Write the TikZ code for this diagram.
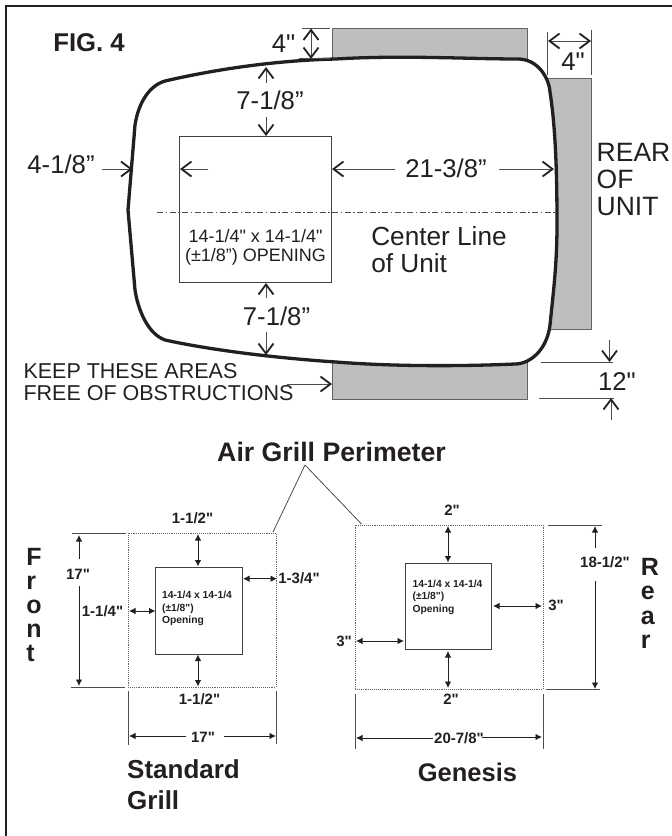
\documentclass[tikz,border=0pt]{standalone}
\usepackage{fontspec}
\setmainfont{Liberation Sans}[Ligatures=TeXOff]
\usetikzlibrary{arrows.meta}
\definecolor{inkdark}{HTML}{231F20}
\definecolor{areagray}{HTML}{BCBEC0}
\tikzset{
	bigtxt/.style={inner sep=0pt,text=inkdark,font=\fontsize{25.7}{27}\selectfont},
	midtxt/.style={inner sep=0pt,text=inkdark,align=left,font=\fontsize{21.5}{22}\selectfont},
	boldtxt/.style={inner sep=0pt,text=inkdark,align=left,font=\fontsize{26}{31}\selectfont\bfseries},
	dimtxt/.style={inner sep=0pt,text=inkdark,font=\fontsize{15}{15}\selectfont\bfseries},
	opentxt/.style={inner sep=0pt,text=inkdark,align=left,font=\fontsize{10.3}{12.5}\selectfont\bfseries},
	areabox/.style={fill=areagray,draw=inkdark!70,line width=0.8pt},
	openbox/.style={draw=inkdark!85,line width=0.9pt},
	thinline/.style={draw=inkdark!80,line width=0.8pt},
	bigdim/.style={draw=inkdark!80,line width=0.8pt,-{Straight Barb[length=10pt,width=15pt,line width=1.8pt,color=inkdark]}},
	bigboth/.style={draw=inkdark!80,line width=0.8pt,{Straight Barb[length=10pt,width=15pt,line width=1.8pt,color=inkdark]}-{Straight Barb[length=10pt,width=15pt,line width=1.8pt,color=inkdark]}},
	smalldim/.style={draw=inkdark,line width=0.9pt,-{Latex[length=6.5pt,width=6.5pt]}},
	smallboth/.style={draw=inkdark,line width=0.9pt,{Latex[length=6.5pt,width=6.5pt]}-{Latex[length=6.5pt,width=6.5pt]}},
	grillline/.style={draw=inkdark!70,line width=0.9pt,densely dotted},
}
\begin{document}
\begin{tikzpicture}[x=1pt,y=-1pt]
	\useasboundingbox (0,0) rectangle (672,836);

	\draw[inkdark,line width=2.2pt] (6,836) -- (6,6) -- (672,6);

	\node[areabox,minimum width=195pt,minimum height=60pt,inner sep=0pt] (topArea) at (429.5,58) {};
	\node[areabox,minimum width=195pt,minimum height=60pt,inner sep=0pt] (botArea) at (429.5,369) {};
	\node[areabox,minimum width=60pt,minimum height=251pt,inner sep=0pt] (rearArea) at (561,203.5) {};

	\draw[inkdark,fill=white,line width=3.3pt,line join=round]
		(165,81) .. controls (230,66) and (290,60) .. (336,59)
		.. controls (400,55) and (470,59) .. (518,59)
		.. controls (538,59) and (549,78) .. (550,92)
		.. controls (556,130) and (557,180) .. (557,225)
		.. controls (557,265) and (553,295) .. (550,325)
		.. controls (547,350) and (530,364) .. (515,364)
		.. controls (470,366) and (400,367) .. (336,362)
		.. controls (290,359) and (220,352) .. (165,340)
		.. controls (148,334) and (138,310) .. (135,290)
		-- (128,210) -- (135,125)
		.. controls (138,105) and (148,86) .. (165,81) -- cycle;

	\node[openbox,minimum width=152pt,minimum height=146pt,inner sep=0pt] (opening) at (255.5,209.5) {};
	\draw[inkdark!80,line width=0.8pt,dash pattern=on 6pt off 2.5pt on 1.5pt off 2.5pt] (157,212) -- (555,212);

	\node[boldtxt,font=\fontsize{25.7}{27}\selectfont\bfseries] (figTitle) at (89,43) {FIG. 4};
	\node[bigtxt] (topGap) at (283.5,44) {4"};
	\node[bigtxt] (rearGap) at (573,62) {4"};
	\node[bigtxt] (frontDim) at (61,164) {4-1/8”};
	\node[bigtxt] (rearDim) at (446,168) {21-3/8”};
	\node[bigtxt] (upperDim) at (270,100) {7-1/8”};
	\node[bigtxt] (lowerDim) at (276.5,316) {7-1/8”};
	\node[bigtxt] (sideDim) at (617,382) {12"};
	\node[bigtxt,align=left,font=\fontsize{26.5}{27}\selectfont] (rearLabel) at (633.5,179.5) {REAR\\OF\\UNIT};
	\node[bigtxt,align=left,font=\fontsize{26.2}{27.5}\selectfont] (centerLabel) at (439,249.5) {Center Line\\of Unit};
	\node[inner sep=0pt,text=inkdark,align=center,font=\fontsize{18}{19.5}\selectfont] (openingText) at (255.5,247.5) {14-1/4" x 14-1/4"\\(±1/8”) OPENING};
	\node[midtxt] (keepLabel) at (158.5,382) {KEEP THESE AREAS\\FREE OF OBSTRUCTIONS};

	\coordinate (topExtA1) at (302,28); \coordinate (topExtA2) at (330,28);
	\coordinate (topExtB1) at (299,58.5); \coordinate (topExtB2) at (330,58.5);
	\coordinate (topArrA) at (311,28.5); \coordinate (topArrB) at (311,59);
	\coordinate (rearExtA1) at (547.5,32); \coordinate (rearExtA2) at (547.5,75);
	\coordinate (rearExtB1) at (591,30); \coordinate (rearExtB2) at (591,75);
	\coordinate (rearArrA) at (548,41); \coordinate (rearArrB) at (591,41);
	\coordinate (frontArrA) at (102,169); \coordinate (frontArrB) at (132.5,169);
	\coordinate (frontArrC) at (208,169); \coordinate (frontArrD) at (180,169);
	\coordinate (rearArrC) at (395,169); \coordinate (rearArrD) at (332,169);
	\coordinate (rearArrE) at (499,169); \coordinate (rearArrF) at (554,169);
	\coordinate (upperArrA) at (266,83); \coordinate (upperArrB) at (266,67);
	\coordinate (upperArrC) at (266,117); \coordinate (upperArrD) at (266,136);
	\coordinate (lowerArrA) at (266,298); \coordinate (lowerArrB) at (266,283);
	\coordinate (lowerArrC) at (266,332); \coordinate (lowerArrD) at (266,355);
	\coordinate (keepArrA) at (287,384); \coordinate (keepArrB) at (332,384);
	\coordinate (sideExtA1) at (541,362.5); \coordinate (sideExtA2) at (613,362.5);
	\coordinate (sideExtB1) at (539,398); \coordinate (sideExtB2) at (614,398);
	\coordinate (sideArrA) at (609.5,340); \coordinate (sideArrB) at (609.5,362);
	\coordinate (sideArrC) at (611,420); \coordinate (sideArrD) at (611,398);

	\path (topExtA1) edge[thinline] (topExtA2);
	\path (topExtB1) edge[thinline] (topExtB2);
	\path (topArrA) edge[bigboth] (topArrB);
	\path (rearExtA1) edge[thinline] (rearExtA2);
	\path (rearExtB1) edge[thinline] (rearExtB2);
	\path (rearArrA) edge[bigboth] (rearArrB);
	\path (frontArrA) edge[bigdim] (frontArrB);
	\path (frontArrC) edge[bigdim] (frontArrD);
	\path (rearArrC) edge[bigdim] (rearArrD);
	\path (rearArrE) edge[bigdim] (rearArrF);
	\path (upperArrA) edge[bigdim] (upperArrB);
	\path (upperArrC) edge[bigdim] (upperArrD);
	\path (lowerArrA) edge[bigdim] (lowerArrB);
	\path (lowerArrC) edge[bigdim] (lowerArrD);
	\path (keepArrA) edge[bigdim] (keepArrB);
	\path (sideExtA1) edge[thinline] (sideExtA2);
	\path (sideExtB1) edge[thinline] (sideExtB2);
	\path (sideArrA) edge[bigdim] (sideArrB);
	\path (sideArrC) edge[bigdim] (sideArrD);

	\node[boldtxt,font=\fontsize{26.7}{27}\selectfont\bfseries] (perimLabel) at (331.5,452) {Air Grill Perimeter};
	\coordinate (perimApex) at (305,465);
	\coordinate (stdCorner) at (273,532);
	\coordinate (genCorner) at (361.5,524);
	\path (perimApex) edge[thinline] (stdCorner);
	\path (perimApex) edge[thinline] (genCorner);

	\node[grillline,minimum width=148pt,minimum height=154pt,inner sep=0pt] (stdGrill) at (202,610) {};
	\node[openbox,minimum width=86.5pt,minimum height=87pt,inner sep=0pt] (stdOpen) at (198.75,610.5) {};
	\node[opentxt] (stdText) at (197,608.5) {14-1/4 x 14-1/4\\(±1/8")\\Opening};
	\node[inner sep=0pt,text=inkdark,align=left,font=\fontsize{25}{24}\selectfont\bfseries] (frontText) at (34,605.5) {F\\r\\o\\n\\t};
	\node[dimtxt] (stdTop) at (192.5,518) {1-1/2"};
	\node[dimtxt] (stdBot) at (199.5,699) {1-1/2"};
	\node[dimtxt] (stdRight) at (299,578) {1-3/4"};
	\node[dimtxt] (stdLeft) at (102.5,611) {1-1/4"};
	\node[dimtxt] (stdHeight) at (78,574) {17"};
	\node[dimtxt] (stdWidth) at (203,737) {17"};
	\node[boldtxt,anchor=north west] (stdName) at (127,759) {Standard\\Grill};

	\coordinate (stdTopA) at (198,534); \coordinate (stdTopB) at (198,566.5);
	\coordinate (stdBotA) at (198,654.5); \coordinate (stdBotB) at (198,686.5);
	\coordinate (stdRightA) at (243,578.7); \coordinate (stdRightB) at (277,578.7);
	\coordinate (stdLeftA) at (129,611); \coordinate (stdLeftB) at (155.5,611);
	\coordinate (stdHA) at (79,559); \coordinate (stdHB) at (79,535);
	\coordinate (stdHC) at (79,586); \coordinate (stdHD) at (79,686);
	\coordinate (stdExtA1) at (72,533); \coordinate (stdExtA2) at (126,533);
	\coordinate (stdExtB1) at (71,687); \coordinate (stdExtB2) at (125,687);
	\coordinate (stdExtC1) at (128,691); \coordinate (stdExtC2) at (128,745);
	\coordinate (stdExtD1) at (276,691); \coordinate (stdExtD2) at (276,744);
	\coordinate (stdWA) at (186,736); \coordinate (stdWB) at (129,736);
	\coordinate (stdWC) at (224,736); \coordinate (stdWD) at (276,736);

	\path (stdTopA) edge[smallboth] (stdTopB);
	\path (stdBotA) edge[smallboth] (stdBotB);
	\path (stdRightA) edge[smallboth] (stdRightB);
	\path (stdLeftA) edge[smallboth] (stdLeftB);
	\path (stdHA) edge[smalldim] (stdHB);
	\path (stdHC) edge[smalldim] (stdHD);
	\path (stdExtA1) edge[thinline] (stdExtA2);
	\path (stdExtB1) edge[thinline] (stdExtB2);
	\path (stdExtC1) edge[thinline] (stdExtC2);
	\path (stdExtD1) edge[thinline] (stdExtD2);
	\path (stdWA) edge[smalldim] (stdWB);
	\path (stdWC) edge[smalldim] (stdWD);

	\node[grillline,minimum width=188pt,minimum height=164pt,inner sep=0pt] (genGrill) at (449,607) {};
	\node[openbox,minimum width=86pt,minimum height=86pt,inner sep=0pt] (genOpen) at (448,606) {};
	\node[opentxt] (genText) at (447.5,597) {14-1/4 x 14-1/4\\(±1/8")\\Opening};
	\node[inner sep=0pt,text=inkdark,align=left,font=\fontsize{25}{24.5}\selectfont\bfseries] (rearText) at (650,603.5) {R\\e\\a\\r};
	\node[dimtxt] (genTop) at (452,510) {2"};
	\node[dimtxt] (genBot) at (451,699) {2"};
	\node[dimtxt] (genRight) at (556,605) {3"};
	\node[dimtxt] (genLeft) at (344,641) {3"};
	\node[dimtxt] (genHeight) at (605,562) {18-1/2"};
	\node[dimtxt] (genWidth) at (459,738) {20-7/8"};
	\node[boldtxt,font=\fontsize{25.5}{27}\selectfont\bfseries] (genName) at (467.5,772) {Genesis};

	\coordinate (genTopA) at (448,526); \coordinate (genTopB) at (448,562.5);
	\coordinate (genBotA) at (448,651); \coordinate (genBotB) at (448,688);
	\coordinate (genRightA) at (493,606); \coordinate (genRightB) at (542,606);
	\coordinate (genLeftA) at (356,641); \coordinate (genLeftB) at (404,641);
	\coordinate (genHA) at (595,548); \coordinate (genHB) at (595,526);
	\coordinate (genHC) at (595,581); \coordinate (genHD) at (595,689);
	\coordinate (genExtA1) at (548,525); \coordinate (genExtA2) at (602,525);
	\coordinate (genExtB1) at (546,689); \coordinate (genExtB2) at (600,689);
	\coordinate (genExtC1) at (355,694); \coordinate (genExtC2) at (355,749);
	\coordinate (genExtD1) at (543,694); \coordinate (genExtD2) at (543,749);
	\coordinate (genWA) at (433,738); \coordinate (genWB) at (356,738);
	\coordinate (genWC) at (482,737); \coordinate (genWD) at (542,737);

	\path (genTopA) edge[smallboth] (genTopB);
	\path (genBotA) edge[smallboth] (genBotB);
	\path (genRightA) edge[smallboth] (genRightB);
	\path (genLeftA) edge[smallboth] (genLeftB);
	\path (genHA) edge[smalldim] (genHB);
	\path (genHC) edge[smalldim] (genHD);
	\path (genExtA1) edge[thinline] (genExtA2);
	\path (genExtB1) edge[thinline] (genExtB2);
	\path (genExtC1) edge[thinline] (genExtC2);
	\path (genExtD1) edge[thinline] (genExtD2);
	\path (genWA) edge[smalldim] (genWB);
	\path (genWC) edge[smalldim] (genWD);

\end{tikzpicture}
\end{document}
